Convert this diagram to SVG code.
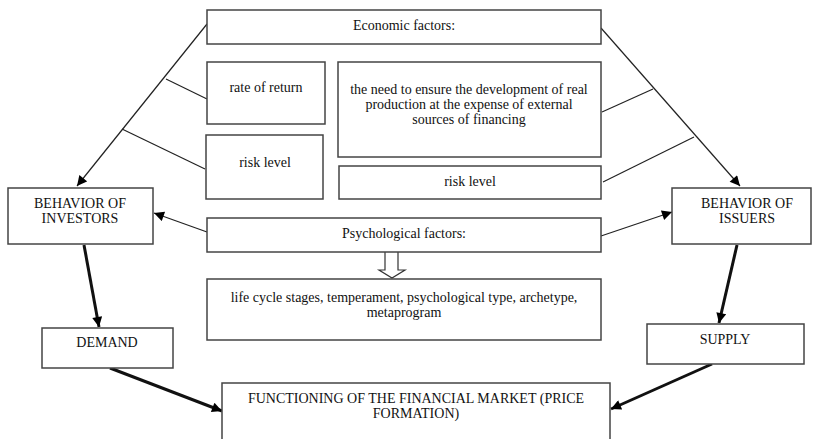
<svg xmlns="http://www.w3.org/2000/svg" width="813" height="439" viewBox="0 0 813 439">
<style>
.box{fill:#fff;stroke:#444;stroke-width:1.5}
.t{font-family:"Liberation Serif","Times New Roman",serif;font-size:14px;fill:#111;text-anchor:middle}
.thin{stroke:#222;stroke-width:1.2;fill:none}
.thick{stroke:#111;stroke-width:3;fill:none}
</style>
<defs>
<marker id="ah" viewBox="0 0 10 10" refX="10" refY="5" markerWidth="11" markerHeight="10" markerUnits="userSpaceOnUse" orient="auto"><path d="M0,0 L10,5 L0,10 z" fill="#000"/></marker>
<marker id="ahk" viewBox="0 0 10 10" refX="10" refY="5" markerWidth="12" markerHeight="10" markerUnits="userSpaceOnUse" orient="auto"><path d="M0,0 L10,5 L0,10 z" fill="#000"/></marker>
</defs>
<rect width="813" height="439" fill="#fff"/>
<g id="connectors">
<line class="thin" x1="207" y1="24" x2="77" y2="186" marker-end="url(#ah)"/>
<line class="thin" x1="166" y1="79" x2="207" y2="99"/>
<line class="thin" x1="122" y1="129" x2="205" y2="169"/>
<line class="thin" x1="601" y1="28" x2="740" y2="186" marker-end="url(#ah)"/>
<line class="thin" x1="602" y1="112" x2="653" y2="89"/>
<line class="thin" x1="603" y1="182" x2="694" y2="137"/>
<line class="thin" x1="207" y1="232" x2="154" y2="213" marker-end="url(#ah)"/>
<line class="thin" x1="601" y1="236" x2="672" y2="212" marker-end="url(#ah)"/>
<line class="thick" x1="84" y1="245" x2="99" y2="327" marker-end="url(#ahk)"/>
<line class="thick" x1="110" y1="368" x2="222" y2="411" marker-end="url(#ahk)"/>
<line class="thick" x1="737" y1="245" x2="719" y2="323" marker-end="url(#ahk)"/>
<line class="thick" x1="712" y1="364" x2="611" y2="409" marker-end="url(#ahk)"/>
<path d="M385,252 L385,270 L379,270 L392,278 L405,270 L398,270 L398,252" fill="#fff" stroke="#333" stroke-width="1.2"/>
</g>
<g id="economic">
<rect class="box" x="207" y="10" width="394" height="34"/>
<text class="t" x="404" y="30">Economic factors:</text>
</g>
<g id="rate-of-return">
<rect class="box" x="207" y="62" width="118" height="62"/>
<text class="t" x="266" y="92">rate of return</text>
</g>
<g id="risk-left">
<rect class="box" x="206" y="135" width="117" height="64"/>
<text class="t" x="265" y="167">risk level</text>
</g>
<g id="need">
<rect class="box" x="338" y="62" width="263" height="95"/>
<text class="t" x="469" y="94">the need to ensure the development of real</text>
<text class="t" x="469" y="109">production at the expense of external</text>
<text class="t" x="469" y="124">sources of financing</text>
</g>
<g id="risk-right">
<rect class="box" x="339" y="166" width="262" height="33"/>
<text class="t" x="470" y="186">risk level</text>
</g>
<g id="investors">
<rect class="box" x="8" y="188" width="145" height="56"/>
<text class="t" x="80" y="208">BEHAVIOR OF</text>
<text class="t" x="80" y="223">INVESTORS</text>
</g>
<g id="psychological">
<rect class="box" x="207" y="218" width="394" height="34"/>
<text class="t" x="404" y="238">Psychological factors:</text>
</g>
<g id="life-cycle">
<rect class="box" x="207" y="279" width="394" height="61"/>
<text class="t" x="404" y="302">life cycle stages, temperament, psychological type, archetype,</text>
<text class="t" x="404" y="317">metaprogram</text>
</g>
<g id="issuers">
<rect class="box" x="672" y="188" width="139" height="56"/>
<text class="t" x="747" y="208">BEHAVIOR OF</text>
<text class="t" x="747" y="223">ISSUERS</text>
</g>
<g id="demand">
<rect class="box" x="42" y="328" width="131" height="40"/>
<text class="t" x="107" y="347">DEMAND</text>
</g>
<g id="supply">
<rect class="box" x="647" y="324" width="157" height="40"/>
<text class="t" x="725" y="344">SUPPLY</text>
</g>
<g id="functioning">
<rect class="box" x="222" y="383" width="388" height="70"/>
<text class="t" x="416" y="403">FUNCTIONING OF THE FINANCIAL MARKET (PRICE</text>
<text class="t" x="416" y="418">FORMATION)</text>
</g>
</svg>
